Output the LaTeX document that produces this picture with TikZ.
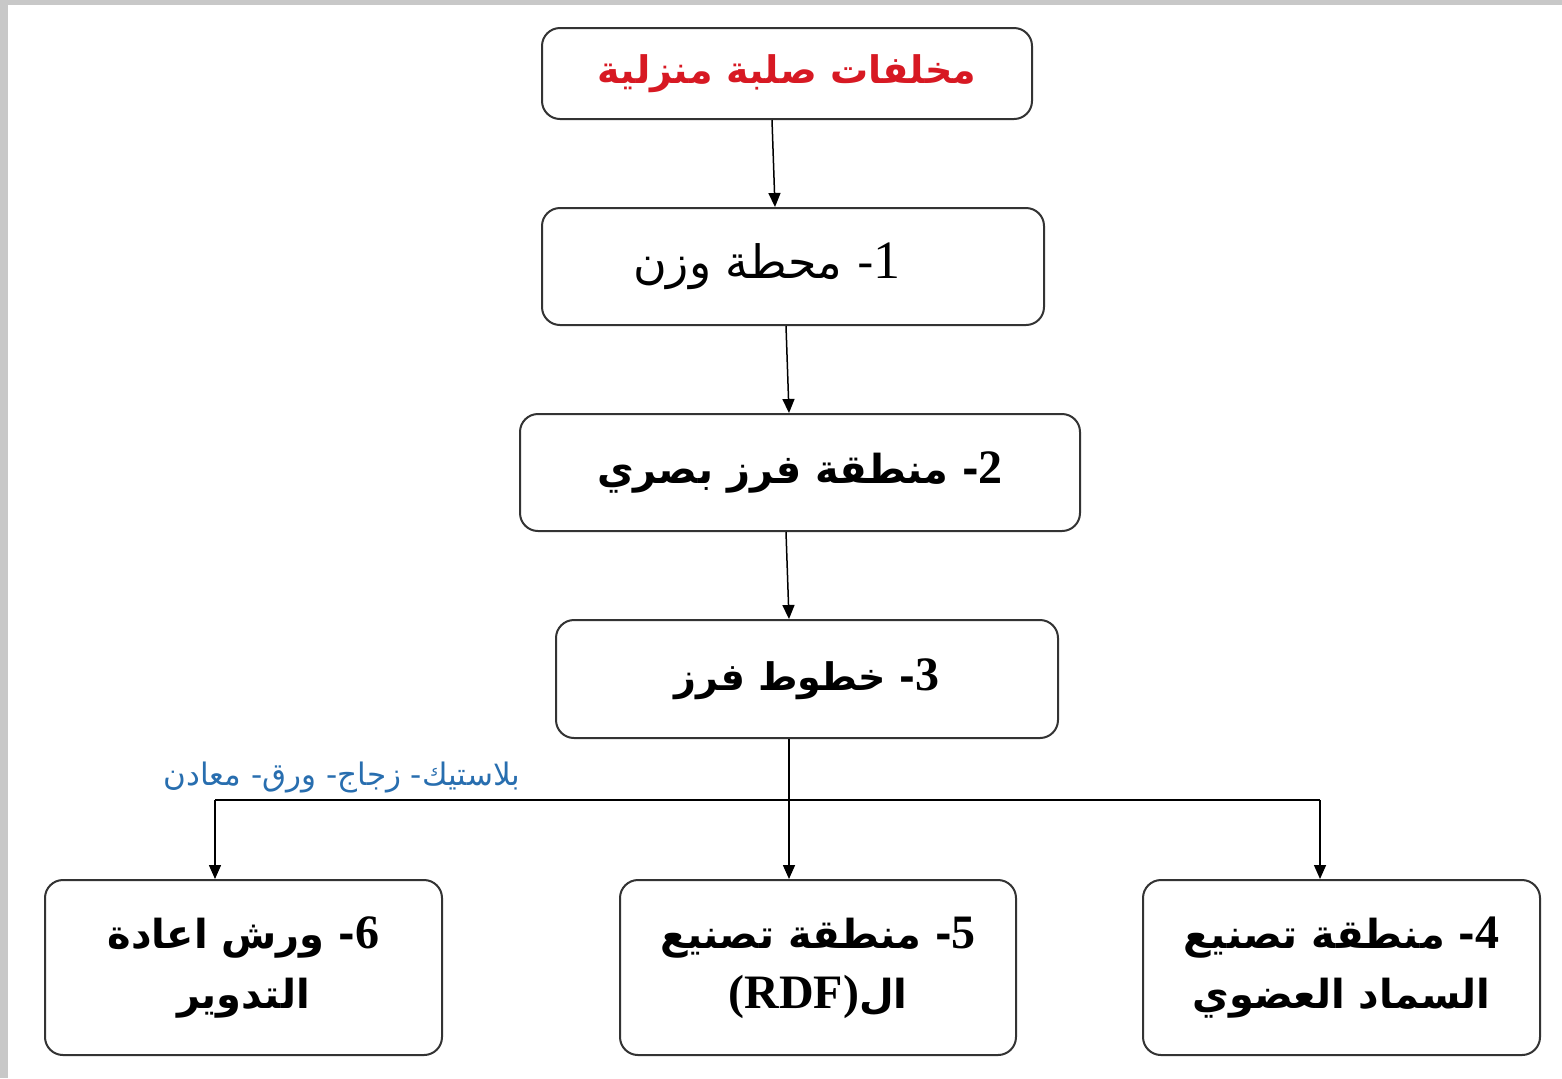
\documentclass[tikz,border=0pt]{standalone}
\usepackage{fontspec}
\usetikzlibrary{arrows.meta}
\TeXXeTstate=1
\newfontfamily\arabicfont[Script=Arabic]{DejaVu Sans}
\newfontfamily\digitfont{Liberation Serif}
\definecolor{boxred}{RGB}{215,25,35}
\definecolor{labelblue}{RGB}{40,110,175}
\definecolor{framegray}{RGB}{200,200,200}
\tikzset{
  flowbox/.style={draw=black!80, line width=1pt, rounded corners=9pt, fill=white, inner sep=0pt, align=center},
  arr/.style={-{Triangle[length=7pt,width=6pt]}, line width=0.75pt, black},
  conn/.style={line width=0.75pt, black},
}
\begin{document}
\begin{tikzpicture}[x=0.5pt,y=-0.5pt]
\useasboundingbox (0,0) rectangle (1562,1078);
\fill[white] (0,0) rectangle (1562,1078);
\fill[framegray] (0,0) rectangle (1562,5);
\fill[framegray] (0,0) rectangle (8,1078);

\node[flowbox, minimum width=245pt, minimum height=45.5pt, text=boxred, font=\arabicfont\bfseries\fontsize{19}{24}\selectfont] (top) at (787,73.5)
  {\beginR مخلفات صلبة منزلية\endR};
\node[flowbox, minimum width=251pt, minimum height=58.5pt, font=\arabicfont\fontsize{23}{26}\selectfont] (b1) at (793,266.5)
  {\beginR\hspace*{26pt}{\digitfont\fontsize{27}{27}\selectfont 1}- محطة وزن\endR};
\node[flowbox, minimum width=280pt, minimum height=58.5pt, font=\arabicfont\bfseries\fontsize{20}{24}\selectfont] (b2) at (800,472.5)
  {\beginR{\digitfont\bfseries\fontsize{24}{24}\selectfont 2}- منطقة فرز بصري\endR};
\node[flowbox, minimum width=251pt, minimum height=59pt, font=\arabicfont\bfseries\fontsize{19}{24}\selectfont] (b3) at (807,679)
  {\beginR{\digitfont\bfseries\fontsize{24}{24}\selectfont 3}- خطوط فرز\endR};

\node[flowbox, minimum width=198.5pt, minimum height=87.5pt, font=\arabicfont\bfseries\fontsize{20}{30}\selectfont] (b6) at (243.5,967.5)
  {\beginR{\digitfont\bfseries\fontsize{24}{24}\selectfont 6}- ورش اعادة\endR\\\beginR التدوير\endR};
\node[flowbox, minimum width=198pt, minimum height=87.5pt, font=\arabicfont\bfseries\fontsize{20}{30}\selectfont] (b5) at (818,967.5)
  {\beginR{\digitfont\bfseries\fontsize{24}{24}\selectfont 5}- منطقة تصنيع\endR\\\beginR ال\beginL{\digitfont\bfseries\fontsize{24}{24}\selectfont(RDF)}\endL\endR};
\node[flowbox, minimum width=198.5pt, minimum height=87.5pt, font=\arabicfont\bfseries\fontsize{20}{30}\selectfont] (b4) at (1341.5,967.5)
  {\beginR{\digitfont\bfseries\fontsize{24}{24}\selectfont 4}- منطقة تصنيع\endR\\\beginR السماد العضوي\endR};

\draw[arr] ([xshift=-7.5pt]top.south) -- ([xshift=-9pt]b1.north);
\draw[arr] ([xshift=-3.5pt]b1.south) -- ([xshift=-5.5pt]b2.north);
\draw[arr] ([xshift=-7pt]b2.south) -- ([xshift=-9pt]b3.north);

\coordinate (j) at (789,800);
\coordinate (jl) at (215,800);
\coordinate (jr) at (1320,800);
\draw[conn] ([xshift=-9pt]b3.south) -- (j);
\draw[conn] (jl) -- (jr);
\draw[arr] (jl) -- (b6.north -| jl);
\draw[arr] (j) -- (b5.north -| j);
\draw[arr] (jr) -- (b4.north -| jr);

\node[text=labelblue, font=\arabicfont\fontsize{15.5}{17}\selectfont, inner sep=0pt] (lbl) at (342,777)
  {\beginR بلاستيك- زجاج- ورق- معادن\endR};
\end{tikzpicture}
\end{document}
